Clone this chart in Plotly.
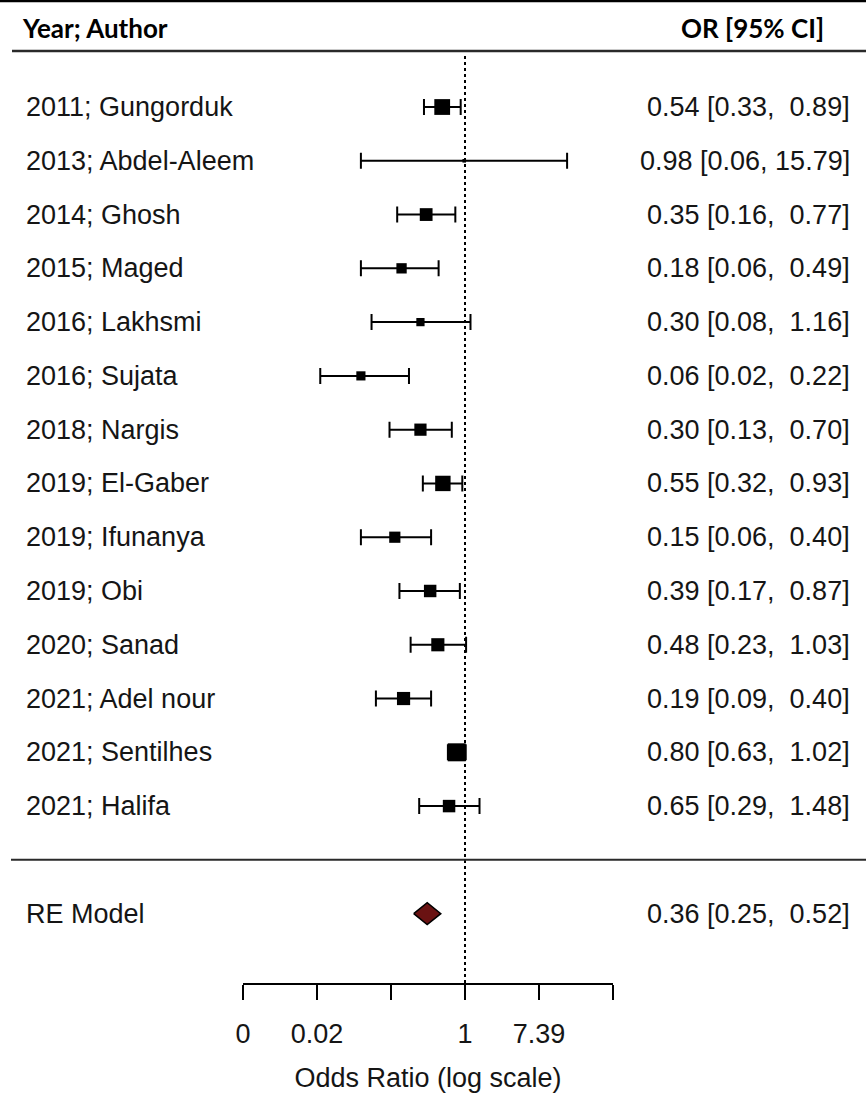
import numpy as np
import plotly.graph_objects as go

# ---------------- data ----------------
studies = ["2011; Gungorduk", "2013; Abdel-Aleem", "2014; Ghosh", "2015; Maged",
           "2016; Lakhsmi", "2016; Sujata", "2018; Nargis", "2019; El-Gaber",
           "2019; Ifunanya", "2019; Obi", "2020; Sanad", "2021; Adel nour",
           "2021; Sentilhes", "2021; Halifa"]
or_vals = [0.54, 0.98, 0.35, 0.18, 0.30, 0.06, 0.30, 0.55, 0.15, 0.39, 0.48, 0.19, 0.80, 0.65]
ci_low = [0.33, 0.06, 0.16, 0.06, 0.08, 0.02, 0.13, 0.32, 0.06, 0.17, 0.23, 0.09, 0.63, 0.29]
ci_high = [0.89, 15.79, 0.77, 0.49, 1.16, 0.22, 0.70, 0.93, 0.40, 0.87, 1.03, 0.40, 1.02, 1.48]

summary_label = "RE Model"
summary_or = 0.36
summary_low = 0.25
summary_high = 0.52

tick_vals = [-6, -4, -2, 0, 2, 4]          # log odds ratio
tick_text = ["0", "0.02", "", "1", "7.39", ""]

header_left = "Year; Author"
header_right = "OR [95% CI]"
x_title = "Odds Ratio (log scale)"

# ---------------- layout constants ----------------
W, H = 866, 1095
ML, MR, MT, MB = 243, 253, 0, 112
PW, PH = W - ML - MR, H - MT - MB
Y_RANGE = [-2.29, 15.99]

def px_x(px):
    return (px - ML) / PW

def px_y(py):
    return 1 - (py - MT) / PH

FONT = "Arial, 'Liberation Sans', Helvetica, sans-serif"
BOLD_FONT = "Lato, 'Open Sans', sans-serif"
TXT = "#151515"
FS = 27

k = len(studies)
rows = np.arange(k, 0, -1)
yi = np.log(or_vals)
lo = np.log(ci_low)
hi = np.log(ci_high)

# marker size from random-effects weights (derived from the CIs)
se = (hi - lo) / (2 * 1.96)
vi = se ** 2
wi = 1 / vi
ybar = np.sum(wi * yi) / np.sum(wi)
Q = np.sum(wi * (yi - ybar) ** 2)
C = np.sum(wi) - np.sum(wi ** 2) / np.sum(wi)
tau2 = max(0.0, (Q - (k - 1)) / C)
w_re = 1 / (vi + tau2)
psize = 0.3 + 1.2 * (w_re - w_re.min()) / (w_re.max() - w_re.min())
sizes = psize * 12

fig = go.Figure()

# studies
fig.add_trace(go.Scatter(
    x=yi, y=rows, mode="markers",
    marker=dict(symbol="square", size=sizes, color="black", opacity=1,
                line=dict(width=0)),
    error_x=dict(type="data", symmetric=False, array=hi - yi, arrayminus=yi - lo,
                 color="black", thickness=2, width=8),
    showlegend=False, hoverinfo="skip", cliponaxis=False,
))

# summary diamond
s_est, s_lo, s_hi = np.log(summary_or), np.log(summary_low), np.log(summary_high)
dh = 0.205
fig.add_trace(go.Scatter(
    x=[s_lo, s_est, s_hi, s_est, s_lo], y=[-1, -1 + dh, -1, -1 - dh, -1],
    mode="lines", fill="toself", fillcolor="#6a1212",
    line=dict(color="black", width=1.5), showlegend=False, hoverinfo="skip",
))

shapes = [
    dict(type="line", xref="paper", yref="paper", x0=px_x(0), x1=px_x(W),
         y0=px_y(1), y1=px_y(1), line=dict(color="black", width=2.5)),
    dict(type="line", xref="paper", yref="paper", x0=px_x(12), x1=px_x(W),
         y0=px_y(51), y1=px_y(51), line=dict(color="#2a2a2a", width=2.5)),
    dict(type="line", xref="paper", yref="y", x0=px_x(11), x1=px_x(W),
         y0=0, y1=0, line=dict(color="#2a2a2a", width=2)),
    dict(type="line", xref="x", yref="y", x0=0, x1=0, y0=Y_RANGE[0], y1=k + 1,
         line=dict(color="black", width=2, dash="dot"), layer="below"),
]

def fmt(v):
    return f"{v:.2f}"

upper_w = max(len(fmt(v)) for v in ci_high + [summary_high])
def ci_text(e, l, u):
    us = fmt(u)
    pad = "\u00a0" * (upper_w - len(us))
    return f"{fmt(e)} [{fmt(l)}, {pad}{us}]"

annotations = []
for lab, r, e, l, u in zip(studies, rows, or_vals, ci_low, ci_high):
    annotations.append(dict(x=px_x(24), y=r, xref="paper", yref="y", text=lab,
                            showarrow=False, xanchor="left", yanchor="middle",
                            font=dict(family=FONT, size=FS, color=TXT)))
    annotations.append(dict(x=px_x(852), y=r, xref="paper", yref="y", text=ci_text(e, l, u),
                            showarrow=False, xanchor="right", yanchor="middle",
                            font=dict(family=FONT, size=FS, color=TXT)))
annotations.append(dict(x=px_x(24), y=-1, xref="paper", yref="y", text=summary_label,
                        showarrow=False, xanchor="left", yanchor="middle",
                        font=dict(family=FONT, size=FS, color=TXT)))
annotations.append(dict(x=px_x(852), y=-1, xref="paper", yref="y",
                        text=ci_text(summary_or, summary_low, summary_high),
                        showarrow=False, xanchor="right", yanchor="middle",
                        font=dict(family=FONT, size=FS, color=TXT)))
annotations.append(dict(x=px_x(20), y=px_y(28), xref="paper", yref="paper",
                        text=f"<b>{header_left}</b>", showarrow=False,
                        xanchor="left", yanchor="middle",
                        font=dict(family=BOLD_FONT, size=26, color="black")))
annotations.append(dict(x=px_x(826), y=px_y(28), xref="paper", yref="paper",
                        text=f"<b>{header_right}</b>", showarrow=False,
                        xanchor="right", yanchor="middle",
                        font=dict(family=BOLD_FONT, size=26, color="black")))

fig.update_layout(
    width=W, height=H,
    margin=dict(l=ML, r=MR, t=MT, b=MB, pad=0),
    paper_bgcolor="white", plot_bgcolor="white",
    shapes=shapes, annotations=annotations,
    xaxis=dict(range=[tick_vals[0], tick_vals[-1]], tickmode="array",
               tickvals=tick_vals, ticktext=tick_text,
               showgrid=False, zeroline=False, showline=True,
               linecolor="black", linewidth=2, ticks="outside", ticklen=15,
               tickwidth=2, tickcolor="black", ticklabelstandoff=11,
               tickfont=dict(family=FONT, size=FS, color=TXT),
               title=dict(text=x_title, font=dict(family=FONT, size=FS, color=TXT),
                          standoff=20),
               automargin=False, fixedrange=True),
    yaxis=dict(range=Y_RANGE, visible=False, fixedrange=True),
)

fig.write_html("out.html")
